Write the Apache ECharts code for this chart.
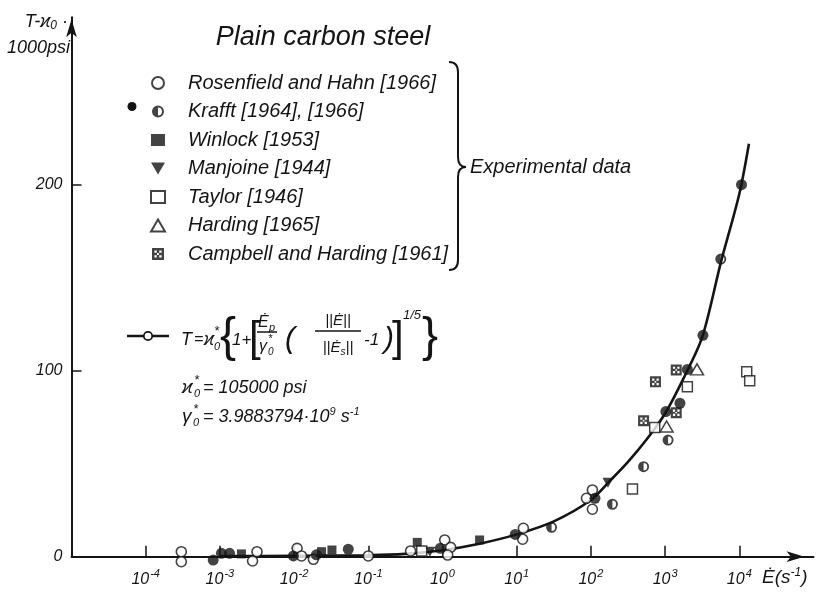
<!DOCTYPE html>
<html><head><meta charset="utf-8">
<script src="https://cdn.jsdelivr.net/npm/echarts@6/dist/echarts.min.js"></script>
<style>html,body{margin:0;padding:0;background:#fff}#c{width:816px;height:595px}</style>
</head><body><div id="c"></div>
<script>
// Strain rate values are kept as log10(Ė / s^-1); T values are T-κ0 in 1000 psi.
const curveLogE = [-3, -2, -1, -0.5, 0, 0.5, 1, 1.5, 2, 2.25, 2.5, 2.75, 3, 3.25, 3.5, 3.75, 4, 4.13];
const curveT    = [0.3, 0.5, 0.8, 1.5, 3.5, 7, 12, 19, 30.5, 40.5, 51, 63, 77, 96, 118, 158, 195, 222];

const rosenLogE = [-3.52, -3.52, -2.50, -2.56, -1.96, -1.90, -1.74, -1.0, -0.43, 0.03, 0.11, 0.07, 1.09, 1.08, 1.94, 2.02, 2.02];
const rosenT    = [2.7, -2.7, 2.7, -2.3, 4.5, 0.4, -1.4, 0.4, 3.1, 9, 5, 0.9, 15.3, 9.4, 31.4, 35.9, 25.5];

const krafftLogE = [-3.09, -2.98, -2.87, -2.01, -1.70, -1.27, -0.03, 0.98, 2.055, 3.01, 3.2, 3.30, 3.51, 4.03];
const krafftT    = [-1.8, 1.8, 1.8, 0.4, 1.0, 4.0, 4.5, 12, 31.4, 78, 82.5, 100.7, 119, 200];

const krafftHalfLogE = [1.47, 2.29, 2.71, 3.04, 3.75];
const krafftHalfT    = [15.8, 28.2, 48.4, 62.7, 160];

const winlockLogE = [-2.71, -1.63, -1.49, -0.34, 0.50];
const winlockT    = [1.5, 2.7, 3.6, 7.7, 9];

const manjoineLogE = [-0.17, 2.23];
const manjoineT    = [2.7, 39.8];

const taylorLogE = [-0.28, 2.56, 2.86, 3.30, 4.10, 4.14];
const taylorT    = [3.0, 36.4, 69.4, 91.4, 99.5, 94.6];

const hardingLogE = [3.02, 3.43];
const hardingT    = [70, 100.7];

const campbellLogE = [2.71, 3.15, 2.87, 3.15];
const campbellT    = [73.1, 77.4, 94, 100.4];

const xTickValues = [1e-4, 1e-3, 1e-2, 1e-1, 1, 1e1, 1e2, 1e3, 1e4];
const yTickValues = [100, 200];
const yLabelValues = [0, 100, 200];

const seriesNames = [
  'Rosenfield and Hahn [1966]',
  'Krafft [1964], [1966]',
  'Winlock [1953]',
  'Manjoine [1944]',
  'Taylor [1946]',
  'Harding [1965]',
  'Campbell and Harding [1961]'
];

function pts(logE, T) { return logE.map((e, i) => [Math.pow(10, e), T[i]]); }

const FONT = "'Liberation Sans', 'DejaVu Sans', sans-serif";
const INK = '#141414';

const halfCircle = 'path://M10,0A10,10 0 0 0 10,20Z M10,0A10,10 0 0 1 10,20L10,16.6A6.6,6.6 0 0 0 10,3.4Z';
const downTri = 'path://M0,0L20,0L10,17Z';
const crossSq = 'path://M0,0H20V20H0Z M4,4V8H8V4Z M12,4V8H16V4Z M4,12V16H8V12Z M12,12V16H16V12Z M8.5,8.5V11.5H11.5V8.5Z';

const chart = echarts.init(document.getElementById('c'), null, {renderer: 'canvas'});

function txt(x, y, text, size, extra) {
  return {
    type: 'text', x: x, y: y, silent: true,
    style: Object.assign({
      text: text, fill: INK, fontSize: size, fontFamily: FONT, fontStyle: 'italic',
      align: 'left', verticalAlign: 'middle'
    }, extra || {})
  };
}
function seg(x1, y1, x2, y2, w) {
  return {type: 'line', silent: true, shape: {x1: x1, y1: y1, x2: x2, y2: y2}, style: {stroke: INK, lineWidth: w || 2}};
}
function qc(x1, y1, cx, cy, x2, y2, w) {
  return {type: 'bezierCurve', silent: true, shape: {x1: x1, y1: y1, cpx1: cx, cpy1: cy, x2: x2, y2: y2},
          style: {stroke: INK, lineWidth: w || 2, fill: null}};
}

const graphics = [
  // title
  txt(323, 37, 'Plain carbon steel', 27, {align: 'center'}),
  // y axis title
  {type: 'text', x: 68, y: 22, silent: true, style: {
    text: '{m|T-ϰ}{s|0}{m| ·}', align: 'right', verticalAlign: 'middle', fill: INK,
    rich: {m: {fontSize: 18, fontFamily: FONT, fontStyle: 'italic', fill: INK},
           s: {fontSize: 12, fontFamily: FONT, fontStyle: 'italic', fill: INK, padding: [8, 0, 0, 0]}}
  }},
  txt(70, 48, '1000psi', 18, {align: 'right'}),
  // x axis title
  {type: 'text', x: 762, y: 578, silent: true, style: {
    text: '{m|Ė(s}{s|-1}{m|)}', align: 'left', verticalAlign: 'middle', fill: INK,
    rich: {m: {fontSize: 19, fontFamily: FONT, fontStyle: 'italic', fill: INK},
           s: {fontSize: 12, fontFamily: FONT, fontStyle: 'italic', fill: INK, padding: [0, 0, 10, 0]}}
  }},
  // bracket for experimental data
  qc(449, 62, 458, 62, 458, 72),
  seg(458, 72, 458, 157),
  qc(458, 157, 458, 167, 466, 167),
  qc(466, 167, 458, 167, 458, 177),
  seg(458, 177, 458, 260),
  qc(458, 260, 458, 270, 449, 270),
  txt(470, 167, 'Experimental data', 20),
  // extra filled circle in Krafft legend row
  {type: 'circle', silent: true, shape: {cx: 132, cy: 106.5, r: 4.5}, style: {fill: INK}},
  // curve legend symbol
  seg(127, 336, 169, 336, 2.5),
  {type: 'circle', silent: true, shape: {cx: 148, cy: 336, r: 4.2}, style: {fill: '#fff', stroke: INK, lineWidth: 1.8}},
  // formula
  txt(181, 340, 'T', 18),
  txt(194, 340, '=', 16),
  txt(204, 340, 'ϰ', 18),
  txt(214, 347, '0', 11),
  txt(214, 331, '*', 13),
  txt(220, 338, '{', 48, {fontStyle: 'normal', fontWeight: 'lighter'}),
  txt(232, 340, '1+', 17),
  txt(249, 339, '[', 42, {fontStyle: 'normal'}),
  txt(258, 323, 'Ė', 16),
  txt(269, 328, 'p', 11),
  seg(257, 332, 277, 332, 1.5),
  txt(259, 347, 'γ', 16),
  txt(268, 352, '0', 10),
  txt(268, 339, '*', 11),
  txt(285, 340, '(', 30),
  txt(338, 321, '||Ė||', 15, {align: 'center'}),
  seg(315, 331, 361, 331, 1.5),
  {type: 'text', x: 338, y: 348, silent: true, style: {
    text: '{m|||Ė}{s|s}{m|||}', align: 'center', verticalAlign: 'middle', fill: INK,
    rich: {m: {fontSize: 15, fontFamily: FONT, fontStyle: 'italic', fill: INK},
           s: {fontSize: 10, fontFamily: FONT, fontStyle: 'italic', fill: INK, padding: [8, 0, 0, 0]}}
  }},
  txt(364, 340, '-1', 17),
  txt(384, 340, ')', 30),
  txt(392, 339, ']', 42, {fontStyle: 'normal'}),
  txt(403, 315, '1/5', 13),
  txt(422, 338, '}', 48, {fontStyle: 'normal', fontWeight: 'lighter'}),
  // constants
  txt(182, 388, 'ϰ', 19),
  txt(194, 394, '0', 11),
  txt(194, 380, '*', 13),
  txt(203, 388, '= 105000 psi', 18),
  txt(182, 417, 'γ', 19),
  txt(193, 423, '0', 11),
  txt(193, 409, '*', 13),
  {type: 'text', x: 203, y: 417, silent: true, style: {
    text: '{m|= 3.9883794·10}{s|9}{m| s}{s|-1}', align: 'left', verticalAlign: 'middle', fill: INK,
    rich: {m: {fontSize: 18, fontFamily: FONT, fontStyle: 'italic', fill: INK},
           s: {fontSize: 11, fontFamily: FONT, fontStyle: 'italic', fill: INK, padding: [0, 0, 10, 0]}}
  }}
];

const scatterBase = {type: 'scatter', clip: false, z: 3};

const option = {
  backgroundColor: '#fff',
  animation: false,
  grid: {left: 71.5, right: 2.5, top: 17.3, bottom: 38.3, containLabel: false},
  xAxis: {
    type: 'log', logBase: 10, min: 1e-5, max: 1e5,
    axisLine: {show: true, symbol: ['none', 'arrow'], symbolSize: [8, 18], symbolOffset: [0, -9],
               lineStyle: {color: INK, width: 2}},
    axisTick: {show: true, inside: true, length: 11, customValues: xTickValues, lineStyle: {color: INK, width: 1.5}},
    axisLabel: {
      show: true, margin: 12, customValues: xTickValues,
      formatter: function (v) { const e = Math.round(Math.log10(v)); return '{b|10}{s|' + (e < 0 ? '-' + (-e) : e) + '}'; },
      rich: {b: {fontSize: 16, fontFamily: FONT, fontStyle: 'italic', color: INK},
             s: {fontSize: 11, fontFamily: FONT, fontStyle: 'italic', color: INK, padding: [0, 0, 10, 1]}}
    },
    splitLine: {show: false}, minorTick: {show: false}
  },
  yAxis: {
    type: 'value', min: 0, max: 290,
    axisLine: {show: true, symbol: ['none', 'arrow'], symbolSize: [8, 18], symbolOffset: [0, -2],
               lineStyle: {color: INK, width: 2}},
    axisTick: {show: true, inside: true, length: 10, customValues: yTickValues, lineStyle: {color: INK, width: 1.5}},
    axisLabel: {show: true, margin: 9, customValues: yLabelValues, fontSize: 16, fontFamily: FONT, fontStyle: 'italic', color: INK},
    splitLine: {show: false}
  },
  legend: {
    orient: 'vertical', left: 145, top: 68, itemWidth: 14, itemHeight: 12, itemGap: 8.5,
    selectedMode: false, inactiveColor: INK,
    data: [
      {name: seriesNames[0]},
      {name: seriesNames[1], icon: halfCircle},
      {name: seriesNames[2]},
      {name: seriesNames[3]},
      {name: seriesNames[4]},
      {name: seriesNames[5]},
      {name: seriesNames[6]}
    ],
    formatter: function (n) { return '{t|' + n + '}'; },
    textStyle: {color: INK, fontSize: 20, fontFamily: FONT, fontStyle: 'italic',
                rich: {t: {fontSize: 20, fontFamily: FONT, fontStyle: 'italic', color: INK, lineHeight: 20, padding: [0, 0, 0, 18]}}}
  },
  graphic: graphics,
  series: [
    {name: 'curve', type: 'line', data: pts(curveLogE, curveT), smooth: 0.3, showSymbol: false, symbol: 'none',
     lineStyle: {color: INK, width: 2.6}, z: 2, silent: true},
    Object.assign({}, scatterBase, {name: seriesNames[0], data: pts(rosenLogE, rosenT), symbol: 'circle', symbolSize: 10,
      itemStyle: {color: '#fff', borderColor: INK, borderWidth: 1.6}}),
    Object.assign({}, scatterBase, {name: seriesNames[1], data: pts(krafftLogE, krafftT), symbol: 'circle', symbolSize: 11,
      itemStyle: {color: INK}}),
    Object.assign({}, scatterBase, {name: seriesNames[1], data: pts(krafftHalfLogE, krafftHalfT), symbol: halfCircle, symbolSize: 11,
      itemStyle: {color: INK}}),
    Object.assign({}, scatterBase, {name: seriesNames[2], data: pts(winlockLogE, winlockT), symbol: 'rect', symbolSize: 9,
      itemStyle: {color: INK}}),
    Object.assign({}, scatterBase, {name: seriesNames[3], data: pts(manjoineLogE, manjoineT), symbol: downTri, symbolSize: [11, 10],
      itemStyle: {color: INK}}),
    Object.assign({}, scatterBase, {name: seriesNames[4], data: pts(taylorLogE, taylorT), symbol: 'rect', symbolSize: 10,
      itemStyle: {color: '#fff', borderColor: INK, borderWidth: 1.5}}),
    Object.assign({}, scatterBase, {name: seriesNames[5], data: pts(hardingLogE, hardingT), symbol: 'triangle', symbolSize: [13, 11],
      itemStyle: {color: '#fff', borderColor: INK, borderWidth: 1.5}}),
    Object.assign({}, scatterBase, {name: seriesNames[6], data: pts(campbellLogE, campbellT), symbol: crossSq, symbolSize: 11,
      itemStyle: {color: INK}})
  ]
};
chart.setOption(option);
</script></body></html>
